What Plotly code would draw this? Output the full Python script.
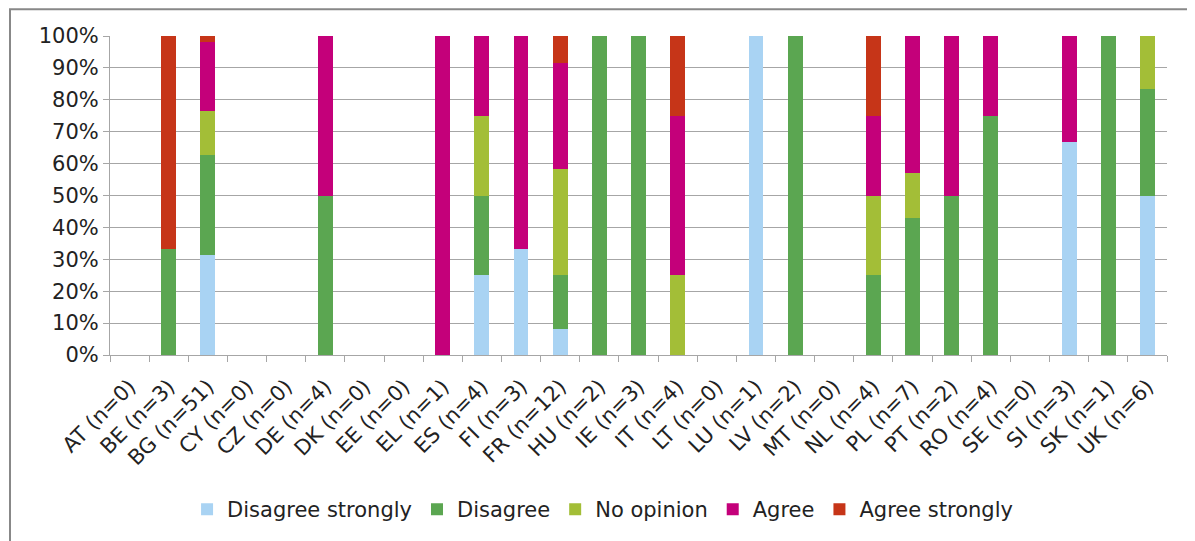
import plotly.graph_objects as go

countries = ["AT (n=0)", "BE (n=3)", "BG (n=51)", "CY (n=0)", "CZ (n=0)", "DE (n=4)",
             "DK (n=0)", "EE (n=0)", "EL (n=1)", "ES (n=4)", "FI (n=3)", "FR (n=12)",
             "HU (n=2)", "IE (n=3)", "IT (n=4)", "LT (n=0)", "LU (n=1)", "LV (n=2)",
             "MT (n=0)", "NL (n=4)", "PL (n=7)", "PT (n=2)", "RO (n=4)", "SE (n=0)",
             "SI (n=3)", "SK (n=1)", "UK (n=6)"]

# shares per answer, in %
disagree_strongly = [0, 0, 31.4, 0, 0, 0, 0, 0, 0, 25, 33.3, 8.3, 0, 0, 0, 0, 100, 0,
                     0, 0, 0, 0, 0, 0, 66.7, 0, 50]
disagree = [0, 33.3, 31.4, 0, 0, 50, 0, 0, 0, 25, 0, 16.7, 100, 100, 0, 0, 0, 100,
            0, 25, 42.9, 50, 75, 0, 0, 100, 33.3]
no_opinion = [0, 0, 13.7, 0, 0, 0, 0, 0, 0, 25, 0, 33.3, 0, 0, 25, 0, 0, 0,
              0, 25, 14.3, 0, 0, 0, 0, 0, 16.7]
agree = [0, 0, 21.6, 0, 0, 50, 0, 0, 100, 25, 66.7, 33.3, 0, 0, 50, 0, 0, 0,
         0, 25, 42.9, 50, 25, 0, 33.3, 0, 0]
agree_strongly = [0, 66.7, 2.0, 0, 0, 0, 0, 0, 0, 0, 0, 8.3, 0, 0, 25, 0, 0, 0,
                  0, 25, 0, 0, 0, 0, 0, 0, 0]

series = [
    ("Disagree strongly", disagree_strongly, "#A9D3F3"),
    ("Disagree", disagree, "#5BA651"),
    ("No opinion", no_opinion, "#A3BE37"),
    ("Agree", agree, "#C4007A"),
    ("Agree strongly", agree_strongly, "#C63518"),
]

fig = go.Figure()
for name, vals, color in series:
    fig.add_trace(go.Bar(
        x=countries, y=vals, name=name,
        marker=dict(color=color, line=dict(width=0)),
    ))

font = "Verdana, DejaVu Sans, sans-serif"

# page body adds 8px margin, so the figure is a bit smaller than the window
fig.update_layout(
    barmode="stack",
    bargap=0.62,
    width=1187, height=533,
    margin=dict(l=102, r=28, t=28, b=185),
    plot_bgcolor="white",
    paper_bgcolor="white",
    font=dict(family=font, size=21, color="#222222"),
    legend=dict(
        orientation="h", x=0.466, xanchor="center", y=-0.48, yanchor="middle",
        font=dict(size=21), traceorder="normal",
    ),
)

fig.update_yaxes(
    range=[0, 100], dtick=10, ticksuffix="%",
    showgrid=True, gridcolor="#A6A6A6", gridwidth=1,
    showline=True, linecolor="#A6A6A6", linewidth=1,
    ticks="outside", ticklen=6, tickcolor="#A6A6A6",
    zeroline=False,
)
fig.update_xaxes(
    tickangle=-45, ticklabelstandoff=10,
    showline=True, linecolor="#A6A6A6", linewidth=1,
    ticks="outside", tickson="boundaries", ticklen=6, tickcolor="#A6A6A6",
)

# outer chart frame (partly cut off in the source image)
fig.add_shape(
    type="rect", xref="paper", yref="paper",
    x0=-0.0946, x1=1.2, y0=1.084, y1=-0.8,
    line=dict(color="#888888", width=2),
)

fig.write_html("out.html")
